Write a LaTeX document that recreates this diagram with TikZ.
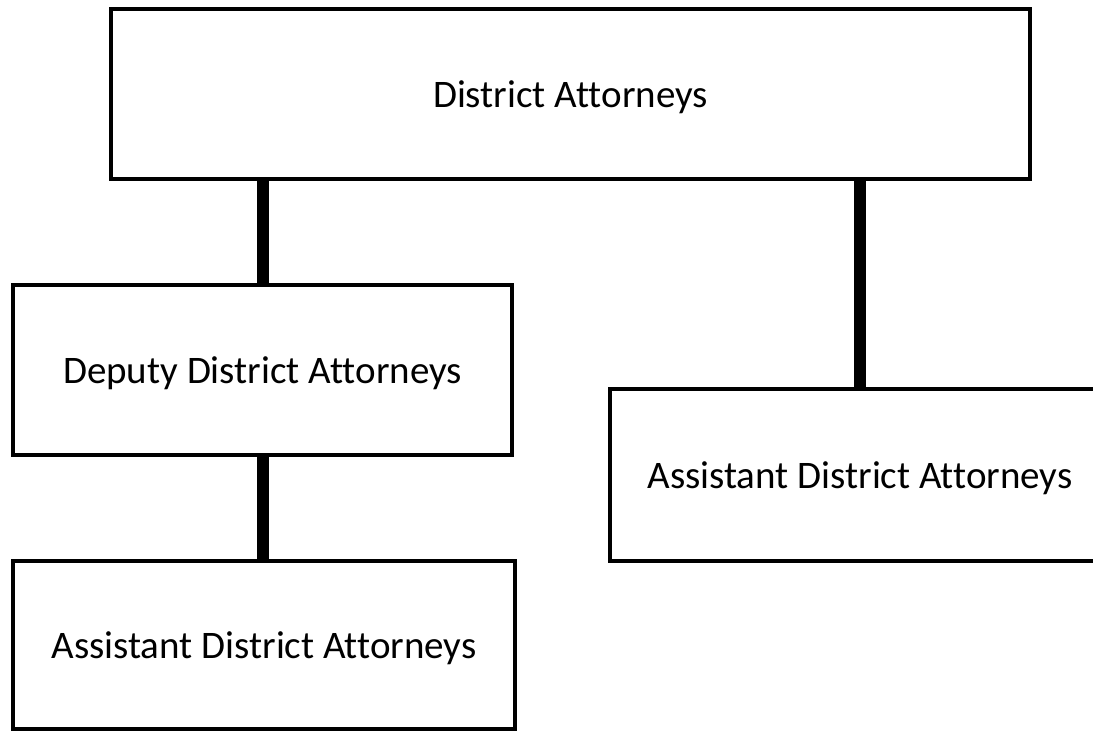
\documentclass[tikz,border=0pt]{standalone}
\usepackage{fontspec}
\setmainfont{Carlito}[Ligatures=NoCommon]
\begin{document}
\begin{tikzpicture}[x=1pt,y=-1pt,
  box/.style={draw=black, line width=4pt, fill=white, rectangle, inner sep=0pt,
    text depth=0pt, font=\fontsize{39}{46}\selectfont},
  conn/.style={draw=black, line width=12pt}]
\useasboundingbox (0,0) rectangle (1093,731);
\clip (0,0) rectangle (1093,731);
\node[box, minimum width=919pt, minimum height=170pt] (top) at (570.5,94) {District Attorneys};
\node[box, minimum width=499pt, minimum height=170pt] (dep) at (262.5,370) {Deputy District Attorneys};
\node[box, minimum width=502pt, minimum height=168pt] (bot) at (264,645) {Assistant District Attorneys};
\node[box, minimum width=500pt, minimum height=172pt] (rgt) at (860,475) {Assistant District Attorneys};
\draw[conn] (top.south -| dep.north) -- (dep.north);
\draw[conn] (dep.south) -- (bot.north -| dep.south);
\draw[conn] (rgt.north) -- (rgt.north |- top.south);
\end{tikzpicture}
\end{document}
